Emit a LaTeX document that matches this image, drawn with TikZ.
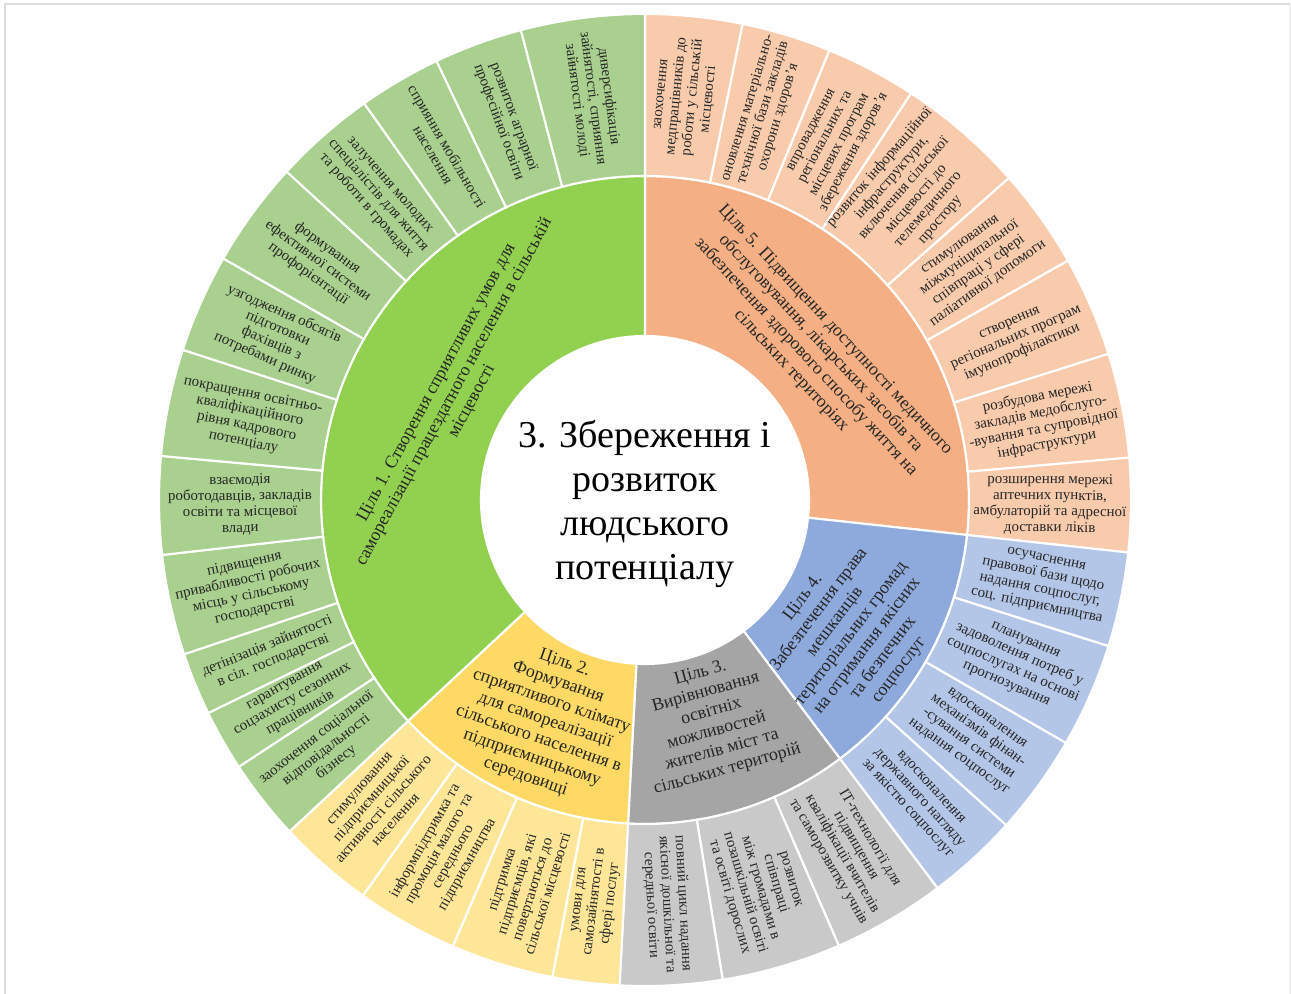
\documentclass[tikz,border=0pt]{standalone}
\usepackage{fontspec}
\setmainfont{Liberation Serif}
\definecolor{gGoal}{HTML}{92D050}
\definecolor{gSeg}{HTML}{A9D08E}
\definecolor{oGoal}{HTML}{F4B084}
\definecolor{oSeg}{HTML}{F8CBAD}
\definecolor{bGoal}{HTML}{8EA9DB}
\definecolor{bSeg}{HTML}{B4C6E7}
\definecolor{kGoal}{HTML}{A5A5A5}
\definecolor{kSeg}{HTML}{C9C9C9}
\definecolor{yGoal}{HTML}{FFD966}
\definecolor{ySeg}{HTML}{FFE699}
\definecolor{txt}{HTML}{262626}
\definecolor{frameC}{HTML}{DDDDDD}
\definecolor{frameL}{HTML}{F0F0F0}
\newcommand\ringseg[5]{\fill[#5,draw=white,line width=1.6pt] (#1:#3) arc[start angle=#1,end angle=#2,radius=#3] -- (#2:#4) arc[start angle=#2,end angle=#1,radius=#4] -- cycle;}
\tikzset{
  segtxt/.style={text=txt,align=center,inner sep=0pt,font=\fontsize{11.2}{12}\selectfont},
  goaltxt/.style={text=txt,align=center,inner sep=0pt,font=\fontsize{13.4}{15}\selectfont},
  centertxt/.style={text=black,align=center,inner sep=0pt,font=\fontsize{28.5}{33}\selectfont},
  framebox/.style={draw=frameC,line width=0.9pt},
  framelight/.style={draw=frameL,line width=0.9pt}
}
\begin{document}
\begin{tikzpicture}[x=0.75pt,y=0.75pt]
\useasboundingbox (0,0) rectangle (1291,994);
\draw[framebox] (5,0) -- (5,990) -- (1290,990);
\draw[framelight] (1290,990) -- (1290,0);
\begin{scope}[shift={(645,494)}]
% inner ring (goals)
\ringseg{-6.2}{90}{164}{324}{oGoal}
\ringseg{-53}{-6.2}{164}{324}{bGoal}
\ringseg{-93}{-53}{164}{324}{kGoal}
\ringseg{223}{267}{164}{324}{yGoal}
\ringseg{90}{223}{164}{324}{gGoal}
% outer ring: orange
\ringseg{78.4}{90}{324}{486}{oSeg}
\ringseg{67.7}{78.4}{324}{486}{oSeg}
\ringseg{56.8}{67.7}{324}{486}{oSeg}
\ringseg{41.5}{56.8}{324}{486}{oSeg}
\ringseg{29.5}{41.5}{324}{486}{oSeg}
\ringseg{17.5}{29.5}{324}{486}{oSeg}
\ringseg{5}{17.5}{324}{486}{oSeg}
\ringseg{-6.2}{5}{324}{486}{oSeg}
% blue
\ringseg{-17.5}{-6.2}{324}{486}{bSeg}
\ringseg{-30}{-17.5}{324}{486}{bSeg}
\ringseg{-42}{-30}{324}{486}{bSeg}
\ringseg{-53}{-42}{324}{486}{bSeg}
% gray
\ringseg{-66.5}{-53}{324}{486}{kSeg}
\ringseg{-80.8}{-66.5}{324}{486}{kSeg}
\ringseg{-93}{-80.8}{324}{486}{kSeg}
% yellow
\ringseg{259}{267}{324}{486}{ySeg}
\ringseg{246.7}{259}{324}{486}{ySeg}
\ringseg{234.5}{246.7}{324}{486}{ySeg}
\ringseg{223}{234.5}{324}{486}{ySeg}
% green
\ringseg{213.3}{223}{324}{486}{gSeg}
\ringseg{206}{213.3}{324}{486}{gSeg}
\ringseg{198.5}{206}{324}{486}{gSeg}
\ringseg{186.5}{198.5}{324}{486}{gSeg}
\ringseg{174.8}{186.5}{324}{486}{gSeg}
\ringseg{162}{174.8}{324}{486}{gSeg}
\ringseg{150.2}{162}{324}{486}{gSeg}
\ringseg{137.5}{150.2}{324}{486}{gSeg}
\ringseg{125.3}{137.5}{324}{486}{gSeg}
\ringseg{115.4}{125.3}{324}{486}{gSeg}
\ringseg{104.8}{115.4}{324}{486}{gSeg}
\ringseg{90}{104.8}{324}{486}{gSeg}
% centre
\fill[white] (0,0) circle[radius=163];
\node[centertxt] (centre) at (0,-4) {3. Збереження і\\розвиток\\людського\\потенціалу};
% goal labels
\node[goaltxt,rotate=61.5] (goal1) at (150.5:219) {Ціль 1. Створення сприятливих умов для\\самореалізації працездатного населення в сільській\\місцевості};
\node[goaltxt,rotate=-19] (goal2) at (245.6:242) {Ціль 2.\\Формування\\сприятливого клімату\\для самореалізації\\сільського населення в\\підприємницькому\\середовищі};
\node[goaltxt,rotate=15.6] (goal3) at (-72.7:232) {Ціль 3.\\Вирівнювання\\освітніх\\можливостей\\жителів міст та\\сільських територій};
\node[goaltxt,rotate=53] (goal4) at (-33:246) {Ціль 4.\\Забезпечення права\\мешканців\\територіальних громад\\на отримання якісних\\та безпечних\\соцпослуг};
\node[goaltxt,rotate=-47] (goal5) at (41.7:225) {Ціль 5. Підвищення доступності медичного\\обслуговування, лікарських засобів та\\забезпечення здорового способу життя на\\сільських територіях};
% orange labels
\node[segtxt,rotate=84.2] (o1) at (84.2:405) {заохочення\\медпрацівників до\\роботи у сільській\\місцевості};
\node[segtxt,rotate=73.05] (o2) at (73.05:405) {оновлення матеріально-\\технічної бази закладів\\охорони здоров’я};
\node[segtxt,rotate=62.25] (o3) at (62.25:405) {впровадження\\регіональних та\\місцевих програм\\збереження здоров’я};
\node[segtxt,rotate=49.15] (o4) at (49.15:405) {розвиток інформаційної\\інфраструктури,\\включення сільської\\місцевості до\\телемедичного\\простору};
\node[segtxt,rotate=35.5] (o5) at (35.5:405) {стимулювання\\міжмуніципальної\\співпраці у сфері\\паліативної допомоги};
\node[segtxt,rotate=23.5] (o6) at (23.5:405) {створення\\регіональних програм\\імунопрофілактики};
\node[segtxt,rotate=11.25] (o7) at (11.25:405) {розбудова мережі\\закладів медобслуго-\\-вування та супровідної\\інфраструктури};
\node[segtxt,rotate=-0.6] (o8) at (-0.6:405) {розширення мережі\\аптечних пунктів,\\амбулаторій та адресної\\доставки ліків};
% blue labels
\node[segtxt,rotate=-11.85] (b4) at (-11.85:405) {осучаснення\\правової бази щодо\\надання соцпослуг,\\соц. підприємництва};
\node[segtxt,rotate=-23.75] (b3) at (-23.75:405) {планування\\задоволення потреб у\\соцпослугах на основі\\прогнозування};
\node[segtxt,rotate=-36] (b2) at (-36:405) {вдосконалення\\механізмів фінан-\\-сування системи\\надання соцпослуг};
\node[segtxt,rotate=-47.5] (b1) at (-47.5:405) {вдосконалення\\державного нагляду\\за якістю соцпослуг};
% gray labels
\node[segtxt,rotate=-59.75] (k3) at (-59.75:405) {ІТ-технології для\\підвищення\\кваліфікації вчителів\\та саморозвитку учнів};
\node[segtxt,rotate=-73.65] (k2) at (-73.65:405) {розвиток\\співпраці\\між громадами в\\позашкільній освіті\\та освіті дорослих};
\node[segtxt,rotate=-86.9] (k1) at (-86.9:405) {повний цикл надання\\якісної дошкільної та\\середньої освіти};
% yellow labels
\node[segtxt,rotate=83] (y4) at (263:405) {умови для\\самозайнятості в\\сфері послуг};
\node[segtxt,rotate=72.85] (y3) at (252.85:405) {підтримка\\підприємців, які\\повертаються до\\сільської місцевості};
\node[segtxt,rotate=60.6] (y2) at (240.6:405) {інформпідтримка та\\промоція малого та\\середнього\\підприємництва};
\node[segtxt,rotate=48.75] (y1) at (228.75:405) {стимулювання\\підприємницької\\активності сільського\\населення};
% green labels
\node[segtxt,rotate=38.15] (g12) at (218.15:405) {заохочення соціальної\\відповідальності\\бізнесу};
\node[segtxt,rotate=29.65] (g11) at (209.65:405) {гарантування\\соцзахисту сезонних\\працівників};
\node[segtxt,rotate=22.25] (g10) at (202.25:405) {детінізація зайнятості\\в сіл. господарстві};
\node[segtxt,rotate=12.5] (g9) at (192.5:405) {підвищення\\привабливості робочих\\місць у сільському\\господарстві};
\node[segtxt,rotate=0.65] (g8) at (180.65:405) {взаємодія\\роботодавців, закладів\\освіти та місцевої\\влади};
\node[segtxt,rotate=-11.6] (g7) at (168.4:405) {покращення освітньо-\\кваліфікаційного\\рівня кадрового\\потенціалу};
\node[segtxt,rotate=-23.9] (g6) at (156.1:405) {узгодження обсягів\\підготовки\\фахівців з\\потребами ринку};
\node[segtxt,rotate=-36.15] (g5) at (143.85:405) {формування\\ефективної системи\\профорієнтації};
\node[segtxt,rotate=-48.6] (g4) at (131.4:405) {залучення молодих\\спеціалістів для життя\\та роботи в громадах};
\node[segtxt,rotate=-59.65] (g3) at (120.35:405) {сприяння мобільності\\населення};
\node[segtxt,rotate=-69.9] (g2) at (110.1:405) {розвиток аграрної\\професійної освіти};
\node[segtxt,rotate=-82.6] (g1) at (97.4:405) {диверсифікація\\зайнятості, сприяння\\зайнятості молоді};
\end{scope}
\end{tikzpicture}
\end{document}
